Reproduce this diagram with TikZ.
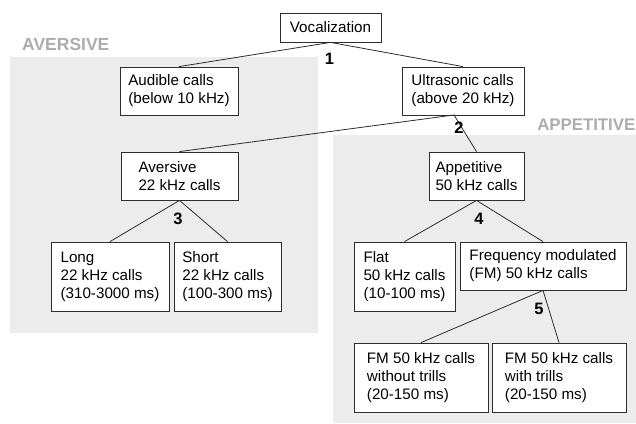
\documentclass[tikz,border=0pt]{standalone}
\usepackage{fontspec}
\setmainfont{Liberation Sans}
\definecolor{regiongray}{RGB}{236,236,236}
\definecolor{labelgray}{RGB}{172,172,172}
\definecolor{linegray}{RGB}{45,45,45}
\begin{document}
\begin{tikzpicture}[x=1pt,y=-1pt,
  box/.style={draw=linegray, line width=0.8pt, fill=white, align=left, inner sep=0pt,
    font=\fontsize{15.2}{18}\selectfont},
  conn/.style={draw=linegray, line width=0.8pt},
  num/.style={font=\fontsize{16.5}{19}\selectfont\bfseries, inner sep=0pt},
  rlabel/.style={font=\fontsize{17.5}{20}\selectfont\bfseries, text=labelgray, inner sep=0pt}]

\useasboundingbox (0,0) rectangle (636,423);
\fill[regiongray] (10,57) rectangle (318,333);
\fill[regiongray] (333,135) rectangle (636,423);
\node[rlabel, anchor=west] (lavers) at (22,44) {AVERSIVE};
\node[rlabel, anchor=east, font=\fontsize{16.8}{20}\selectfont\bfseries] (lappet) at (635.5,124.5) {APPETITIVE};

\coordinate (ultS) at (454,115);

\node[box, minimum width=101pt, minimum height=29pt] (voc) at (330.5,27.5) {Vocalization};
\node[box, minimum width=118pt, minimum height=48pt] (aud) at (179,91) {Audible calls\\(below 10 kHz)};
\node[box, minimum width=122pt, minimum height=48pt] (ult) at (463,91) {Ultrasonic calls\\(above 20 kHz)};
\node[box, minimum width=117pt, minimum height=48pt] (avs) at (179.5,176) {Aversive\\22 kHz calls};
\node[box, minimum width=95pt, minimum height=48pt] (app) at (476.5,176) {Appetitive\\50 kHz calls};
\node[box, minimum width=118pt, minimum height=69pt] (long) at (110,276.5) {Long\\22 kHz calls\\(310-3000 ms)};
\node[box, minimum width=107pt, minimum height=69pt] (short) at (227.5,276.5) {Short\\22 kHz calls\\(100-300 ms)};
\node[box, minimum width=101pt, minimum height=69pt] (flat) at (404.5,276.5) {Flat\\50 kHz calls\\(10-100 ms)};
\node[box, minimum width=166pt, minimum height=48pt] (fm) at (543,266) {Frequency modulated\\(FM) 50 kHz calls};
\node[box, minimum width=134pt, minimum height=69pt] (wo) at (421,377.5) {FM 50 kHz calls\\without trills\\(20-150 ms)};
\node[box, minimum width=134pt, minimum height=69pt] (wi) at (559,377.5) {FM 50 kHz calls\\with trills\\(20-150 ms)};

\draw[conn] (aud.north) -- (voc.south) -- (ult.north);
\draw[conn] (avs.north) -- (ultS) -- (app.north);
\draw[conn] (long.north) -- (avs.south) -- (short.north);
\draw[conn] (flat.north) -- (app.south) -- (fm.north);
\draw[conn] (wo.north) -- (fm.south) -- (wi.north);

\node[num] (n1) at (329.5,59) {1};
\node[num] (n2) at (459,127.5) {2};
\node[num] (n3) at (178,218.5) {3};
\node[num] (n4) at (479,218.5) {4};
\node[num] (n5) at (539,308.5) {5};
\end{tikzpicture}
\end{document}
